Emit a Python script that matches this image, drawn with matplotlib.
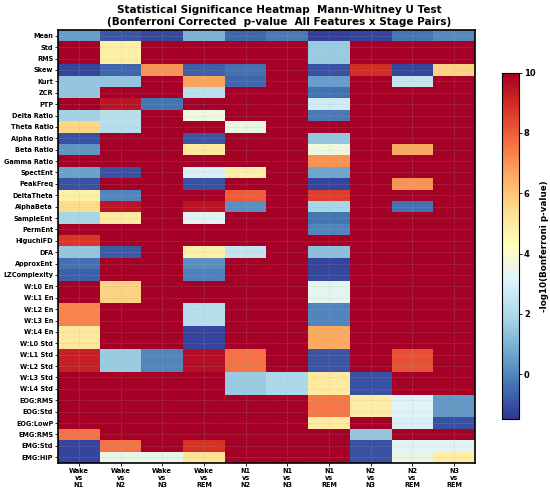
import numpy as np
import matplotlib
matplotlib.use('Agg')
import matplotlib.pyplot as plt

FEATURES = ['Mean', 'Std', 'RMS', 'Skew', 'Kurt', 'ZCR', 'PTP', 'Delta Ratio', 'Theta Ratio',
            'Alpha Ratio', 'Beta Ratio', 'Gamma Ratio', 'SpectEnt', 'PeakFreq', 'DeltaTheta',
            'AlphaBeta', 'SampleEnt', 'PermEnt', 'HiguchiFD', 'DFA', 'ApproxEnt', 'LZComplexity',
            'W:L0 En', 'W:L1 En', 'W:L2 En', 'W:L3 En', 'W:L4 En', 'W:L0 Std', 'W:L1 Std',
            'W:L2 Std', 'W:L3 Std', 'W:L4 Std', 'EOG:RMS', 'EOG:Std', 'EOG:LowP', 'EMG:RMS',
            'EMG:Std', 'EMG:HiP']

PAIRS = ['Wake\nvs\nN1', 'Wake\nvs\nN2', 'Wake\nvs\nN3', 'Wake\nvs\nREM', 'N1\nvs\nN2',
         'N1\nvs\nN3', 'N1\nvs\nREM', 'N2\nvs\nN3', 'N2\nvs\nREM', 'N3\nvs\nREM']

# -log10(Bonferroni p), one row per feature, columns follow PAIRS
NEG_LOG_P = [
    [0.5, -0.9, -1.1, 1.0, -0.6, -0.2, -1.3, -1.2, -0.3, 0.1],   # Mean
    [10, 4.8, 10, 10, 10, 10, 1.6, 10, 10, 10],                  # Std
    [10, 4.8, 10, 10, 10, 10, 1.6, 10, 10, 10],                  # RMS
    [-1.2, -0.6, 7.0, -0.7, -0.4, 10, -1.0, 8.9, -1.2, 5.7],     # Skew
    [1.5, 1.5, 10, 6.7, -0.6, 10, 0.5, 10, 2.5, 10],             # Kurt
    [1.5, 10, 10, 2.3, 10, 10, -0.4, 10, 10, 10],                # ZCR
    [10, 9.5, -0.3, 10, 10, 10, 2.8, 10, 10, 10],                # PTP
    [1.8, 2.2, 10, 3.6, 10, 10, -0.2, 10, 10, 10],               # Delta Ratio
    [5.6, 2.2, 10, 10, 3.5, 10, 10, 10, 10, 10],                 # Theta Ratio
    [-1.0, 10, 10, -0.9, 10, 10, 1.5, 10, 10, 10],               # Alpha Ratio
    [0.3, 10, 10, 5.1, 10, 10, 3.6, 10, 6.6, 10],                # Beta Ratio
    [10, 10, 10, 10, 10, 10, 7.0, 10, 10, 10],                   # Gamma Ratio
    [0.6, -1.0, 10, 3.0, 4.7, 10, 0.7, 10, 10, 10],              # SpectEnt
    [-1.0, 10, 10, -1.0, 10, 10, -1.2, 10, 7.0, 10],             # PeakFreq
    [4.8, 0.0, 10, 10, 8.0, 10, 8.6, 10, 10, 10],                # DeltaTheta
    [5.5, 9.5, 10, 9.5, 0.2, 10, 1.9, 10, -0.4, 10],             # AlphaBeta
    [1.9, 5.0, 10, 3.2, 10, 10, -0.3, 10, 10, 10],               # SampleEnt
    [10, 10, 10, 10, 10, 10, 0.0, 10, 10, 10],                   # PermEnt
    [8.7, 10, 10, 10, 10, 10, 10, 10, 10, 10],                   # HiguchiFD
    [1.5, -0.8, 10, 4.8, 2.5, 10, 1.3, 10, 10, 10],              # DFA
    [-0.4, 10, 10, 0.2, 10, 10, -1.2, 10, 10, 10],               # ApproxEnt
    [-0.7, 10, 10, -0.1, 10, 10, -1.1, 10, 10, 10],              # LZComplexity
    [10, 5.7, 10, 10, 10, 10, 3.3, 10, 10, 10],                  # W:L0 En
    [10, 5.7, 10, 10, 10, 10, 3.3, 10, 10, 10],                  # W:L1 En
    [7.3, 10, 10, 2.2, 10, 10, 0.0, 10, 10, 10],                 # W:L2 En
    [7.3, 10, 10, 2.2, 10, 10, 0.0, 10, 10, 10],                 # W:L3 En
    [5.1, 10, 10, -1.2, 10, 10, 6.6, 10, 10, 10],                # W:L4 En
    [5.1, 10, 10, -1.2, 10, 10, 6.6, 10, 10, 10],                # W:L0 Std
    [9.2, 1.6, 0.0, 9.6, 7.6, 10, -0.9, 10, 8.2, 10],            # W:L1 Std
    [9.2, 1.6, 0.0, 9.6, 7.6, 10, -0.9, 10, 8.2, 10],            # W:L2 Std
    [10, 10, 10, 10, 1.6, 2.0, 5.0, -1.0, 10, 10],               # W:L3 Std
    [10, 10, 10, 10, 1.6, 2.0, 5.0, -1.0, 10, 10],               # W:L4 Std
    [10, 10, 10, 10, 10, 10, 7.5, 4.9, 3.1, 0.4],                # EOG:RMS
    [10, 10, 10, 10, 10, 10, 7.5, 4.9, 3.1, 0.4],                # EOG:Std
    [10, 10, 10, 10, 10, 10, 5.0, 10, 3.0, -1.0],                # EOG:LowP
    [7.6, 10, 10, 10, 10, 10, 10, 1.5, 10, 10],                  # EMG:RMS
    [-1.2, 7.6, 10, 8.8, 10, 10, 10, -1.0, 3.2, 3.2],            # EMG:Std
    [-1.2, 3.4, 3.4, 5.2, 10, 10, 10, -1.0, 3.4, 4.9],           # EMG:HiP
]

data = np.array(NEG_LOG_P)

fig = plt.figure(figsize=(5.5, 4.93), dpi=100)
ax = fig.add_axes([0.1055, 0.061, 0.758, 0.878])
cax = fig.add_axes([0.9127, 0.1495, 0.031, 0.703])

im = ax.imshow(data, cmap='RdYlBu_r', aspect='auto', vmin=-1.5, vmax=10,
               interpolation='nearest')

ax.set_xticks(range(len(PAIRS)))
ax.set_xticklabels(PAIRS, fontsize=4.7, fontweight='bold')
ax.set_yticks(range(len(FEATURES)))
ax.set_yticklabels(FEATURES, fontsize=4.7, fontweight='bold')
ax.tick_params(length=2, width=0.6, pad=1.5)
ax.grid(True, alpha=0.3, linestyle='--', linewidth=0.5)
for s in ax.spines.values():
    s.set_linewidth(1.2)

cbar = fig.colorbar(im, cax=cax)
cbar.set_ticks([0, 2, 4, 6, 8, 10])
cbar.ax.tick_params(labelsize=6, length=2, width=0.6, pad=1.5)
for t in cbar.ax.get_yticklabels():
    t.set_fontweight('bold')
cbar.set_label('-log10(Bonferroni p-value)', fontsize=6.3, fontweight='bold', labelpad=3)

fig.suptitle('Statistical Significance Heatmap  Mann-Whitney U Test\n'
             '(Bonferroni Corrected  p-value  All Features x Stage Pairs)',
             fontsize=7.5, fontweight='bold', y=0.99, x=0.507, linespacing=1.2)

plt.savefig('out.png', dpi=100)
